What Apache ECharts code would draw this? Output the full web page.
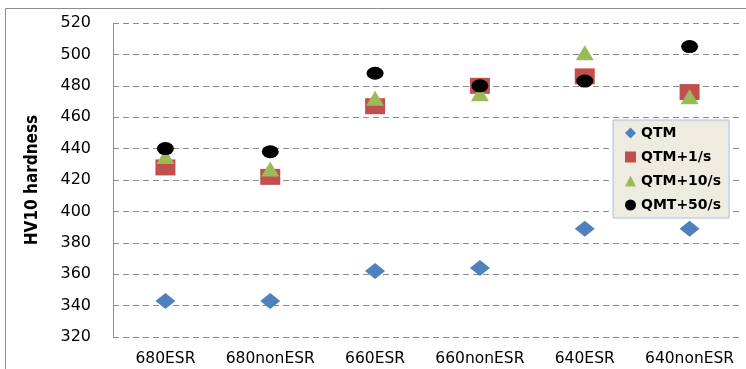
<!DOCTYPE html>
<html><head><meta charset="utf-8">
<script src="https://cdn.jsdelivr.net/npm/echarts@6/dist/echarts.min.js"></script>
<style>html,body{margin:0;padding:0;background:#fff}#c{width:746px;height:369px}</style>
</head><body><div id="c"></div>
<script>
var categories = ['680ESR','680nonESR','660ESR','660nonESR','640ESR','640nonESR'];
var qtm   = [343, 343, 362, 364, 389, 389];
var qtm1  = [428, 422, 467, 480, 486, 476];
var qtm10 = [435, 427, 472, 475, 501, 473];
var qmt50 = [440, 438, 488, 480, 483, 505];
var yTicks = {min: 320, max: 520, interval: 20};

var chart = echarts.init(document.getElementById('c'));
function s(name, data, symbol, size, color){
  return {name:name, type:'scatter', data:data, symbol:symbol, symbolSize:size,
    itemStyle:{color:color, opacity:1}, z: 3};
}
chart.setOption({
  animation:false,
  graphic:[{type:'rect', shape:{x:5.5,y:8.5,width:760,height:400}, style:{fill:null, stroke:'#8c8c8c', lineWidth:1}, silent:true, z:-1}],
  grid:{left:113, right:4, top:23, bottom:32, containLabel:false},
  legend:{
    orient:'vertical', left:613, top:120, width:124,
    backgroundColor:'#EEECE1', borderColor:'#A7C0DE', borderWidth:1,
    padding:[6,8,6,12], itemGap:10, itemWidth:11, itemHeight:11,
    textStyle:{fontFamily:'DejaVu Sans', fontSize:14, fontWeight:'bold', color:'#000'},
    data:['QTM','QTM+1/s','QTM+10/s','QMT+50/s']
  },
  xAxis:{type:'category', data:categories, boundaryGap:true,
    axisLine:{show:false}, axisTick:{show:false},
    axisLabel:{interval:0, hideOverlap:false, fontFamily:'DejaVu Sans', fontSize:15.5, color:'#000', margin:14},
    splitLine:{show:false}},
  yAxis:{type:'value', min:yTicks.min, max:yTicks.max, interval:yTicks.interval,
    name:'HV10 hardness', nameLocation:'middle', nameGap:72, nameRotate:90,
    nameTextStyle:{fontFamily:'DejaVu Sans Condensed, DejaVu Sans', fontSize:17, fontWeight:'bold', color:'#000'},
    axisLine:{show:true, lineStyle:{color:'#8c8c8c'}}, axisTick:{show:false},
    axisLabel:{fontFamily:'DejaVu Sans', fontSize:16, color:'#000', margin:22},
    splitLine:{show:true, lineStyle:{color:'#8c8c8c', type:[6,4], width:1}}},
  series:[
    s('QTM', qtm, 'diamond', [20,16], '#4F81BD'),
    s('QTM+1/s', qtm1, 'rect', [20,16], '#C0504D'),
    s('QTM+10/s', qtm10, 'triangle', [18,15], '#9BBB59'),
    s('QMT+50/s', qmt50, 'circle', [17,13], '#000000')
  ]
});
</script></body></html>
